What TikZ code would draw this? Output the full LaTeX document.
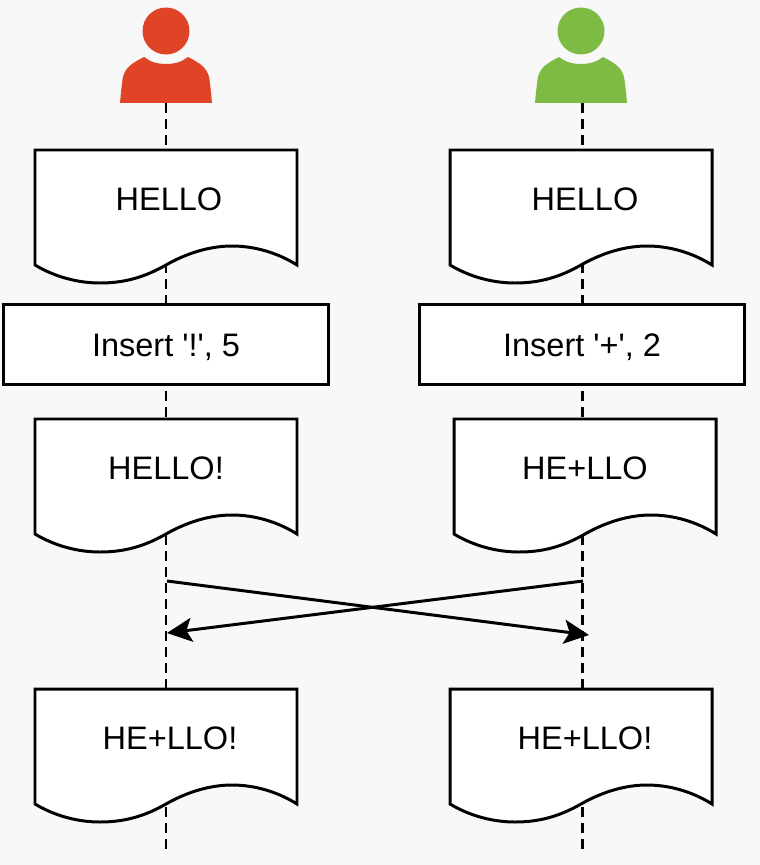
\documentclass[tikz,border=0pt]{standalone}
\usepackage{fontspec}
\setmainfont{Liberation Sans}
\definecolor{userred}{HTML}{E04426}
\definecolor{usergreen}{HTML}{7DBB42}
\definecolor{paper}{HTML}{F8F8F8}
\usetikzlibrary{arrows.meta}
\tikzset{
	head/.style={shape=circle, minimum size=0.94cm, inner sep=0pt},
	txt/.style={font=\fontsize{18.5}{22}\selectfont, inner sep=0pt, text height=0.465cm, text depth=0pt},
	opbox/.style={txt, shape=rectangle, draw=black, fill=white, line width=1.7pt, minimum width=6.5cm, minimum height=1.6cm},
	sheet/.style={draw=black, fill=white, line width=1.7pt},
	lifeline/.style={line width=1.7pt, dash pattern=on 0.2cm off 0.12cm},
	message/.style={line width=1.7pt, -{Stealth[length=0.5cm, width=0.48cm, inset=0.11cm]}}
}
\newcommand{\person}[3]
{
	\node[head, fill=#3] (#1Head) at (#2, 31) {};
	\begin{scope}[shift={(#2, 0)}]
	\fill[#3] (-46, 103) .. controls (-45, 92) and (-44, 82) .. (-43, 77) .. controls (-41, 68) and (-34, 63) .. (-22, 57) .. controls (-16, 62) and (-8, 64) .. (0, 64) .. controls (8, 64) and (16, 62) .. (22, 57) .. controls (34, 63) and (41, 68) .. (43, 77) .. controls (44, 82) and (45, 92) .. (46, 103) -- cycle;
	\coordinate (#1Foot) at (0, 103);
	\end{scope}
}
\newcommand{\sheetnode}[5]
{
	\begin{scope}[shift={(#2, #3)}]
	\draw[sheet] (0, 0) -- (262, 0) -- (262, 115) .. controls (243, 103) and (220, 96) .. (197, 96) .. controls (175, 96) and (152, 103) .. (131, 115) .. controls (110, 127) and (90, 133) .. (65, 133) .. controls (43, 133) and (20, 127) .. (0, 115) -- cycle;
	\end{scope}
	\node[txt] (#1) at (#4, #3 + 49) {#5};
}

\begin{document}
\begin{tikzpicture}[x=0.02cm, y=-0.02cm]

\fill[paper] (0, 0) rectangle (760, 865);
\useasboundingbox (0, 0) rectangle (760, 865);

\person{red}{166}{userred};
\person{green}{581}{usergreen};

\coordinate (redEnd) at (166, 851);
\coordinate (greenEnd) at (582, 851);
\coordinate (greenTop) at (582, 103);
\draw[lifeline] (redFoot) -- (redEnd);
\draw[lifeline] (greenTop) -- (greenEnd);

\sheetnode{A1}{35}{150}{169}{HELLO};
\sheetnode{B1}{450}{150}{585}{HELLO};

\node[opbox] at (166, 344.5) (A2){Insert \textquotesingle!\textquotesingle, 5};
\node[opbox] at (582, 344.5) (B2){Insert \textquotesingle+\textquotesingle, 2};

\sheetnode{A3}{35}{419}{166}{HELLO!};
\sheetnode{B3}{454}{419}{585}{HE+LLO};

\sheetnode{A4}{35}{689}{170}{HE+LLO!};
\sheetnode{B4}{450}{689}{585}{HE+LLO!};

\coordinate (redOut) at (167, 581);
\coordinate (greenOut) at (583, 581);
\coordinate (redIn) at (167, 633);
\coordinate (greenIn) at (589, 635);
\draw[message] (redOut) -- (greenIn);
\draw[message] (greenOut) -- (redIn);
\end{tikzpicture}
\end{document}
